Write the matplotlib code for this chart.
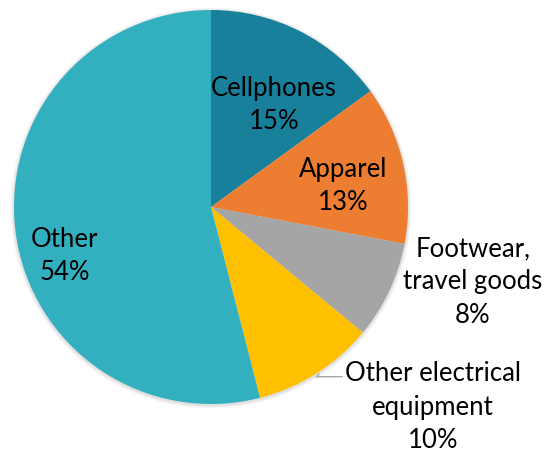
import matplotlib.pyplot as plt

categories = ["Cellphones", "Apparel", "Footwear,\ntravel goods", "Other electrical\nequipment", "Other"]
shares = [15, 13, 8, 10, 54]
colors = ["#19809C", "#ED7D31", "#A5A5A5", "#FFC000", "#33B0BF"]

W, H, DPI = 546, 457, 100
CX, CY, R = 211, 207, 197  # pie centre and radius in pixels


def px(x, y):
    """pixel position -> data coords (pie radius = 1)"""
    return (x - CX) / R, (CY - y) / R


plt.rcParams['font.family'] = ['Lato', 'DejaVu Sans']

fig = plt.figure(figsize=(W / DPI, H / DPI), dpi=DPI)
ax = fig.add_axes([0, 0, 1, 1])
ax.axis('off')

# soft shadow
for i, a in enumerate([0.05, 0.04, 0.03]):
    ax.add_patch(plt.Circle((0.0, -0.005), 1 + 0.006 * (i + 1), color='black', alpha=a, lw=0, zorder=0))

ax.pie(shares, colors=colors, startangle=90, counterclock=False, radius=1,
       wedgeprops=dict(linewidth=0), frame=False)
ax.set_xlim(-CX / R, (W - CX) / R)
ax.set_ylim(-(H - CY) / R, CY / R)

label_pos = [(274, 105), (343, 186), (473, 282), (433, 407), (65, 256)]
fs = 18.5
ls = 1.42
for name, val, (x, y) in zip(categories, shares, label_pos):
    if name.startswith("Other electrical"):
        ax.annotate(f"{name}\n{val}%", xy=px(322, 371), xytext=px(x, y),
                    ha='center', va='center', fontsize=fs, linespacing=ls,
                    arrowprops=dict(arrowstyle='-', color='#A6A6A6', lw=1,
                                    connectionstyle='angle,angleA=0,angleB=45,rad=0',
                                    shrinkA=0, shrinkB=3, relpos=(0.0, 0.83)))
    else:
        ax.text(*px(x, y), f"{name}\n{val}%", ha='center', va='center',
                fontsize=fs, linespacing=ls)

fig.savefig("out.png", dpi=DPI)
